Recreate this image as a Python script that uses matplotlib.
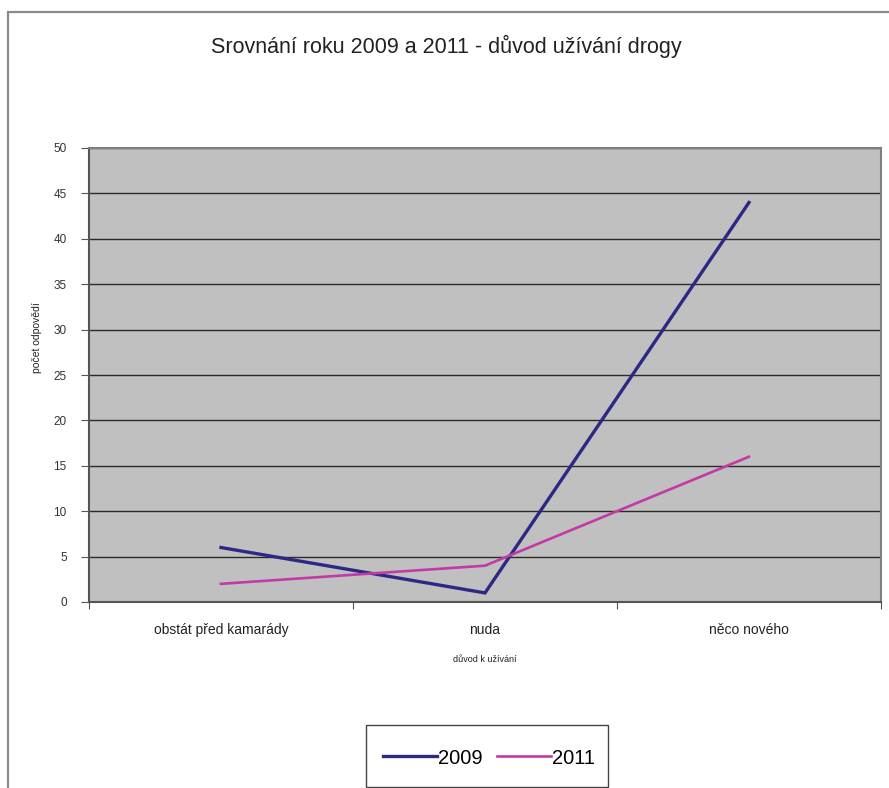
import matplotlib
matplotlib.use("Agg")
import matplotlib.pyplot as plt
from matplotlib.patches import Rectangle
from matplotlib.lines import Line2D

categories = ["obstát před kamarády", "nuda", "něco nového"]
values_2009 = [6, 1, 44]
values_2011 = [2, 4, 16]
series_labels = ["2009", "2011"]
y_ticks = [0, 5, 10, 15, 20, 25, 30, 35, 40, 45, 50]

plt.rcParams["font.family"] = ["Liberation Sans", "DejaVu Sans"]

W, H = 889, 788
fig = plt.figure(figsize=(W / 100, H / 100), dpi=100)
fig.patch.set_facecolor("white")

# outer chart frame
fig.add_artist(Rectangle((8 / W, -0.01), 1.0, 1 - 12 / H + 0.01,
                         transform=fig.transFigure, fill=False,
                         edgecolor="#8a8a8a", linewidth=1.6))

ax = fig.add_axes([89 / W, 1 - 602 / H, 792 / W, 454 / H])
ax.set_facecolor("#c0c0c0")

x = [0.5, 1.5, 2.5]
c2009 = "#2d2884"
c2011 = "#c23aa6"
ax.plot(x, values_2009, color=c2009, linewidth=2.4, solid_joinstyle="miter")
ax.plot(x, values_2011, color=c2011, linewidth=1.9, solid_joinstyle="miter")

ax.set_xlim(0, 3)
ax.set_ylim(0, 50)
ax.set_yticks(y_ticks)
ax.set_yticklabels([str(v) for v in y_ticks], fontsize=8.5, color="#333333")
ax.yaxis.grid(True, color="#2a2a2a", linewidth=1.0)
ax.set_axisbelow(True)

ax.set_xticks([0, 1, 2, 3])
ax.set_xticklabels([])
ax.set_xticks(x, minor=True)
ax.set_xticklabels(categories, minor=True, fontsize=10, color="#222222")
ax.tick_params(axis="x", which="minor", length=0, pad=15)
ax.tick_params(axis="x", which="major", length=5, color="#555555", direction="out")
ax.tick_params(axis="y", length=6, color="#555555", direction="out", pad=10)

for side in ["top", "right"]:
    ax.spines[side].set_color("#808080")
    ax.spines[side].set_linewidth(1.5)
for side in ["left", "bottom"]:
    ax.spines[side].set_color("#555555")
    ax.spines[side].set_linewidth(1.5)

ax.set_xlabel("důvod k užívání", fontsize=6.5, color="#222222", labelpad=13)
fig.text(37 / W, 1 - 338 / H, "počet odpovědí", rotation=90,
         ha="center", va="center", fontsize=7.5, color="#222222")

fig.text(446 / W, 1 - 46 / H, "Srovnání roku 2009 a 2011 - důvod užívání drogy",
         ha="center", va="center", fontsize=15.5, color="#222222")

handles = [Line2D([], [], color=c2009, linewidth=2.4),
           Line2D([], [], color=c2011, linewidth=1.9)]
leg = fig.legend(handles, series_labels, loc="center",
                 bbox_to_anchor=(489 / W, 1 - 758 / H), ncol=2,
                 fontsize=14.5, frameon=False,
                 handlelength=2.7, handletextpad=0.05, columnspacing=0.7)

# legend frame
fig.add_artist(Rectangle((366 / W, 1 - 787 / H), 242 / W, 62 / H,
                         transform=fig.transFigure, fill=False,
                         edgecolor="#444444", linewidth=1.0))

fig.savefig("out.png", dpi=100)
